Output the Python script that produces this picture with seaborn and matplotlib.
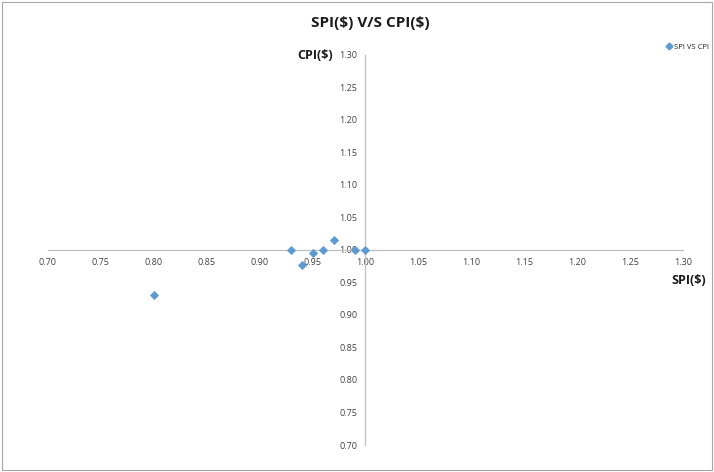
import seaborn as sns
import matplotlib.pyplot as plt
import pandas as pd
from matplotlib.lines import Line2D
from matplotlib.patches import Rectangle

# Data
spi = [0.93, 0.94, 0.95, 0.96, 0.97, 0.99, 1.00, 0.80]
cpi = [1.00, 0.977, 0.995, 1.00, 1.016, 1.00, 1.00, 0.93]
ticks = [0.70, 0.75, 0.80, 0.85, 0.90, 0.95, 1.00, 1.05, 1.10, 1.15, 1.20, 1.25, 1.30]

df = pd.DataFrame({'SPI': spi, 'CPI': cpi})

sns.set_style('white')
plt.rcParams['font.family'] = ['Open Sans', 'DejaVu Sans']

fig = plt.figure(figsize=(7.14, 4.72), dpi=100)
ax = fig.add_axes([0.0672, 0.0572, 0.8894, 0.8263])

blue = '#5B9BD5'
sns.scatterplot(data=df, x='SPI', y='CPI', marker='D', s=22, color=blue,
                edgecolor=blue, linewidth=0, ax=ax, legend=False, zorder=3)

ax.set_xlim(0.70, 1.30)
ax.set_ylim(0.70, 1.30)
ax.set_xticks(ticks)
ax.set_yticks(ticks)
ax.set_xticklabels([f'{t:.2f}' for t in ticks])
ax.set_yticklabels([f'{t:.2f}' for t in ticks])

# axes cross at (1, 1)
ax.spines['left'].set_position(('data', 1.0))
ax.spines['bottom'].set_position(('data', 1.0))
ax.spines['top'].set_visible(False)
ax.spines['right'].set_visible(False)
for s in ['left', 'bottom']:
    ax.spines[s].set_color('#BFBFBF')
    ax.spines[s].set_linewidth(0.9)
ax.tick_params(axis='both', direction='out', length=3, width=0.8,
               color='#BFBFBF', labelsize=6.5, labelcolor='#404040', pad=3)
ax.set_xlabel('')
ax.set_ylabel('')

fig.text(0.518, 0.952, r'SPI(\$) V/S CPI(\$)', ha='center', va='center',
         fontsize=11, fontweight='bold', color='#1a1a1a')
fig.text(0.441, 0.882, r'CPI(\$)', ha='center', va='center',
         fontsize=9, fontweight='bold', color='#1a1a1a')
fig.text(0.965, 0.405, r'SPI(\$)', ha='center', va='center',
         fontsize=9, fontweight='bold', color='#1a1a1a')

handle = Line2D([], [], marker='D', linestyle='', color=blue, markersize=3.5)
fig.legend([handle], ['SPI VS CPI'], loc='center', bbox_to_anchor=(0.962, 0.9),
           frameon=False, fontsize=5.5, handletextpad=0.1, handlelength=1)

# chart border
fig.patches.append(Rectangle((0.003, 0.004), 0.994, 0.992, transform=fig.transFigure,
                             fill=False, edgecolor='#A6A6A6', linewidth=0.8))

fig.savefig('out.png', dpi=100)
